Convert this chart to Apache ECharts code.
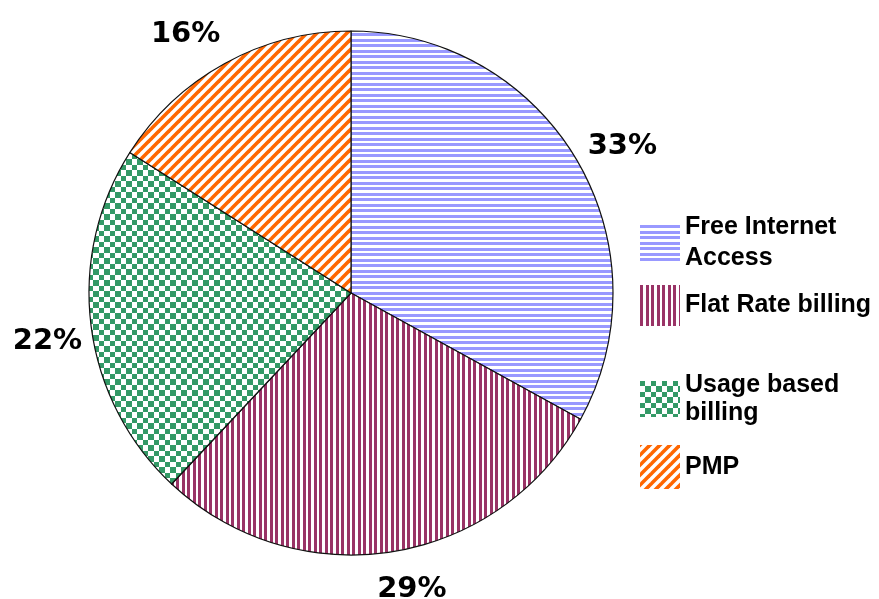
<!DOCTYPE html>
<html>
<head>
<meta charset="utf-8">
<script src="https://cdn.jsdelivr.net/npm/echarts@6/dist/echarts.min.js"></script>
<style>
  html, body { margin: 0; padding: 0; background: #fff; }
  #chart { width: 879px; height: 599px; }
</style>
</head>
<body>
<div id="chart"></div>
<script>
// Billing model shares (percent)
const categories = ['Free Internet\nAccess', 'Flat Rate billing', 'Usage based\nbilling', 'PMP'];
const shares = [33, 29, 22, 16];

// Hatch fills, one per slice
function tile(w, h, draw) {
  const c = document.createElement('canvas');
  c.width = w; c.height = h;
  const ctx = c.getContext('2d');
  ctx.fillStyle = '#fff';
  ctx.fillRect(0, 0, w, h);
  draw(ctx);
  return { image: c, repeat: 'repeat' };
}
const hStripes = tile(11, 11, ctx => {
  ctx.fillStyle = '#9999ff';
  ctx.fillRect(0, 0, 11, 3);
  ctx.fillRect(0, 6, 11, 3);
});
const vStripes = tile(11, 11, ctx => {
  ctx.fillStyle = '#993366';
  ctx.fillRect(0, 0, 3, 11);
  ctx.fillRect(6, 0, 3, 11);
});
const checker = tile(11, 11, ctx => {
  ctx.fillStyle = '#339966';
  ctx.fillRect(0, 0, 5, 5);
  ctx.fillRect(5, 5, 6, 6);
});
const diag = tile(10, 10, ctx => {
  ctx.strokeStyle = '#ff6600';
  ctx.lineWidth = 3.6;
  for (const o of [-10, 0, 10]) {
    ctx.beginPath();
    ctx.moveTo(o - 2, 12);
    ctx.lineTo(o + 12, -2);
    ctx.stroke();
  }
});
const fills = [hStripes, vStripes, checker, diag];

const center = [351, 293];
const radius = 262;
const labelRadius = 306;
// small nudges applied to each percentage label after radial placement
const labelNudge = [[8, 9], [13, -6], [0, 10], [-18, 10]];

// Place each percentage label on its slice's bisector, just outside the rim
const total = shares.reduce((a, b) => a + b, 0);
const midAngles = [];
let acc = 0;
shares.forEach(v => {
  midAngles.push((acc + v / 2) / total * 2 * Math.PI);
  acc += v;
});

const chart = echarts.init(document.getElementById('chart'));

// One legend block per entry so each can sit at its own height
const legendTops = [212, 285, 371, 445];
const legendHeights = [36, 41, 36, 44];
const legendLineHeights = [31, 30, 28, 30];
const legends = categories.map((name, i) => ({
  data: [{ name: name, icon: 'rect' }],
  orient: 'vertical',
  left: 640,
  top: legendTops[i],
  padding: 0,
  itemWidth: 40,
  itemHeight: legendHeights[i],
  itemStyle: { borderWidth: 0 },
  selectedMode: false,
  textStyle: {
    fontFamily: 'Liberation Sans, Arial, sans-serif',
    fontWeight: 'bold',
    fontSize: 25,
    lineHeight: legendLineHeights[i],
    color: '#000'
  }
}));

chart.setOption({
  backgroundColor: '#fff',
  animation: false,
  legend: legends,
  series: [{
    type: 'pie',
    center: center,
    radius: radius,
    startAngle: 90,
    clockwise: true,
    avoidLabelOverlap: false,
    data: categories.map((name, i) => ({
      name: name,
      value: shares[i],
      itemStyle: { color: fills[i] }
    })),
    itemStyle: { borderColor: '#111', borderWidth: 1.2 },
    label: {
      show: true,
      position: 'outside',
      formatter: p => p.value + '%',
      fontFamily: 'DejaVu Sans, sans-serif',
      fontWeight: 'bold',
      fontSize: 29,
      color: '#000'
    },
    labelLine: { show: false },
    labelLayout: params => {
      const i = params.dataIndex;
      const a = midAngles[i];
      return {
        x: center[0] + labelRadius * Math.sin(a) + labelNudge[i][0],
        y: center[1] - labelRadius * Math.cos(a) + labelNudge[i][1],
        align: 'center',
        verticalAlign: 'middle'
      };
    },
    emphasis: { disabled: true }
  }]
});
</script>
</body>
</html>
